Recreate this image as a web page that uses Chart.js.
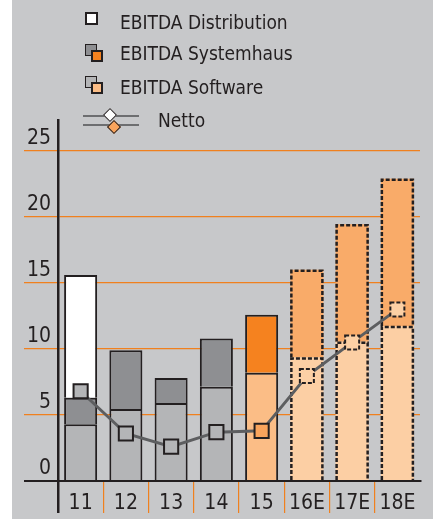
<!DOCTYPE html>
<html>
<head>
<meta charset="utf-8">
<script src="https://cdn.jsdelivr.net/npm/chart.js@4.4.1/dist/chart.umd.min.js"></script>
<style>
  body { margin: 0; background: #fff; }
  #wrap { position: absolute; left: 12px; top: 0; width: 421px; height: 519px; background: #c7c8ca; overflow: hidden; }
  #chart { position: absolute; left: 0; top: 0; }
  .lg { position: absolute; font-family: "DejaVu Sans Condensed", sans-serif; font-size: 19px; color: #231f20; line-height: 20px; white-space: nowrap; }
  .box { position: absolute; box-sizing: border-box; border: 2px solid #231f20; }
  .bar { position: absolute; height: 2px; background: #6d6e70; }
  .dia { position: absolute; box-sizing: border-box; width: 10px; height: 10px; border: 1.5px solid #231f20; transform: rotate(45deg); }
</style>
</head>
<body>
<div id="wrap">
  <canvas id="chart" width="421" height="519"></canvas>

  <div class="box" style="left:73px;top:12px;width:13px;height:13px;background:#fff"></div>
  <div class="lg" style="left:108px;top:12px">EBITDA Distribution</div>

  <div class="box" style="left:73px;top:44px;width:12px;height:12px;background:#8e8f92;border-width:1.5px"></div>
  <div class="box" style="left:79px;top:50px;width:12px;height:12px;background:#f5821f"></div>
  <div class="lg" style="left:108px;top:43px">EBITDA Systemhaus</div>

  <div class="box" style="left:73px;top:76px;width:12px;height:12px;background:#b4b5b7;border-width:1.5px"></div>
  <div class="box" style="left:79px;top:82px;width:12px;height:12px;background:#fbbd86"></div>
  <div class="lg" style="left:108px;top:77px">EBITDA Software</div>

  <div class="bar" style="left:71px;top:115px;width:56px"></div>
  <div class="bar" style="left:71px;top:124px;width:56px"></div>
  <div class="dia" style="left:93px;top:110px;background:#fff"></div>
  <div class="dia" style="left:97px;top:122px;background:#f9a45c"></div>
  <div class="lg" style="left:146px;top:110px">Netto</div>
</div>

<script>
// --- data ---
const labels = ['11', '12', '13', '14', '15', '16E', '17E', '18E'];
const software = [4.3, 5.45, 5.9, 7.15, 8.2, 9.35, 10.55, 11.75];
const systemhaus = [2.0, 4.45, 1.9, 3.65, 4.4, 6.65, 8.9, 11.15];
const distribution = [9.3, null, null, null, null, null, null, null];
const netto = [6.8, 3.6, 2.6, 3.7, 3.8, 7.95, 10.5, 13.0];
const estimate = [false, false, false, false, false, true, true, true];
const yTicks = [0, 5, 10, 15, 20, 25];

const edge = '#231f20';
const gridOrange = '#f0801e';
const font = { family: '"DejaVu Sans Condensed", sans-serif', size: 21 };

const softwareColors = ['#b4b5b7', '#b4b5b7', '#b4b5b7', '#b4b5b7', '#fbbd86', '#fccfa4', '#fccfa4', '#fccfa4'];
const systemColors = ['#8e8f92', '#8e8f92', '#8e8f92', '#8e8f92', '#f5821f', '#f9ab69', '#f9ab69', '#f9ab69'];
const markerColors = ['#b4b5b7', '#b4b5b7', '#b4b5b7', '#b4b5b7', '#f9a45c', '#fcd0a5', '#fcd0a5', '#fcd0a5'];

// estimated years get dashed outlines (bars and markers)
const dashOutline = {
    id: 'dashOutline',
    afterDatasetDraw(chart, args) {
        const ctx = chart.ctx;
        const ds = chart.data.datasets[args.index];
        ctx.save();
        ctx.setLineDash([4, 2]);
        ctx.strokeStyle = edge;
        ctx.lineWidth = 2.5;
        args.meta.data.forEach((el, i) => {
            if (!estimate[i] || ds.data[i] == null) return;
            if (ds.type === 'line') {
                const s = 7;
                ctx.lineWidth = 2;
                ctx.strokeRect(el.x - s, el.y - s, 2 * s, 2 * s);
            } else {
                const { x, y, base, width } = el.getProps(['x', 'y', 'base', 'width'], true);
                const l = x - width / 2 + 1, r = x + width / 2 - 1;
                ctx.beginPath();
                ctx.moveTo(l, base);
                ctx.lineTo(l, y + 1);
                ctx.lineTo(r, y + 1);
                ctx.lineTo(r, base);
                ctx.stroke();
            }
        });
        ctx.restore();
    }
};

const barBorder = estimate.map(e => e ? 0 : 2);

// first x grid line doubles as the y axis running below the baseline; none after the last column
const xGridColor = c => {
    if (c.index === 0) return edge;
    return (c.index > 0 && c.index < labels.length) ? gridOrange : 'rgba(0,0,0,0)';
};

new Chart(document.getElementById('chart'), {
    data: {
        labels: labels,
        datasets: [
            {
                type: 'line', label: 'Netto', data: netto, order: 0, stack: 'netto',
                borderColor: '#5d5e60', borderWidth: 3, tension: 0,
                pointStyle: 'rect', pointRadius: 10,
                pointBackgroundColor: markerColors, pointBorderColor: edge,
                pointBorderWidth: estimate.map(e => e ? 0 : 2)
            },
            {
                type: 'bar', label: 'EBITDA Software', data: software, order: 1, stack: 'ebitda',
                backgroundColor: softwareColors, borderColor: edge, borderWidth: barBorder
            },
            {
                type: 'bar', label: 'EBITDA Systemhaus', data: systemhaus, order: 1, stack: 'ebitda',
                backgroundColor: systemColors, borderColor: edge, borderWidth: barBorder
            },
            {
                type: 'bar', label: 'EBITDA Distribution', data: distribution, order: 1, stack: 'ebitda',
                backgroundColor: '#ffffff', borderColor: edge, borderWidth: barBorder
            }
        ]
    },
    options: {
        responsive: false,
        animation: false,
        devicePixelRatio: 1,
        layout: { padding: { top: 120, right: 13, left: 0, bottom: 0 } },
        datasets: { bar: { categoryPercentage: 1, barPercentage: 0.73 } },
        plugins: { legend: { display: false }, tooltip: { enabled: false } },
        scales: {
            x: {
                stacked: true,
                offset: true,
                grid: {
                    offset: true,
                    drawOnChartArea: false,
                    tickLength: 32,
                    color: xGridColor,
                    lineWidth: c => c.index === 0 ? 2.5 : 1.2
                },
                border: { color: edge, width: 2 },
                ticks: { color: edge, font: font, padding: -22, autoSkip: false, maxRotation: 0 },
                afterFit: s => { s.height = 38; }
            },
            y: {
                stacked: true,
                min: 0,
                max: 27.35,
                afterBuildTicks: s => { s.ticks = yTicks.map(v => ({ value: v })); },
                grid: {
                    tickLength: 34,
                    color: c => yTicks[c.index] === 0 ? edge : gridOrange,
                    lineWidth: c => yTicks[c.index] === 0 ? 2 : 1.2
                },
                border: { color: edge, width: 2.5 },
                ticks: { color: edge, font: font, padding: -27, labelOffset: -12 },
                afterFit: s => { s.width = 46; }
            }
        }
    },
    plugins: [dashOutline]
});
</script>
</body>
</html>
